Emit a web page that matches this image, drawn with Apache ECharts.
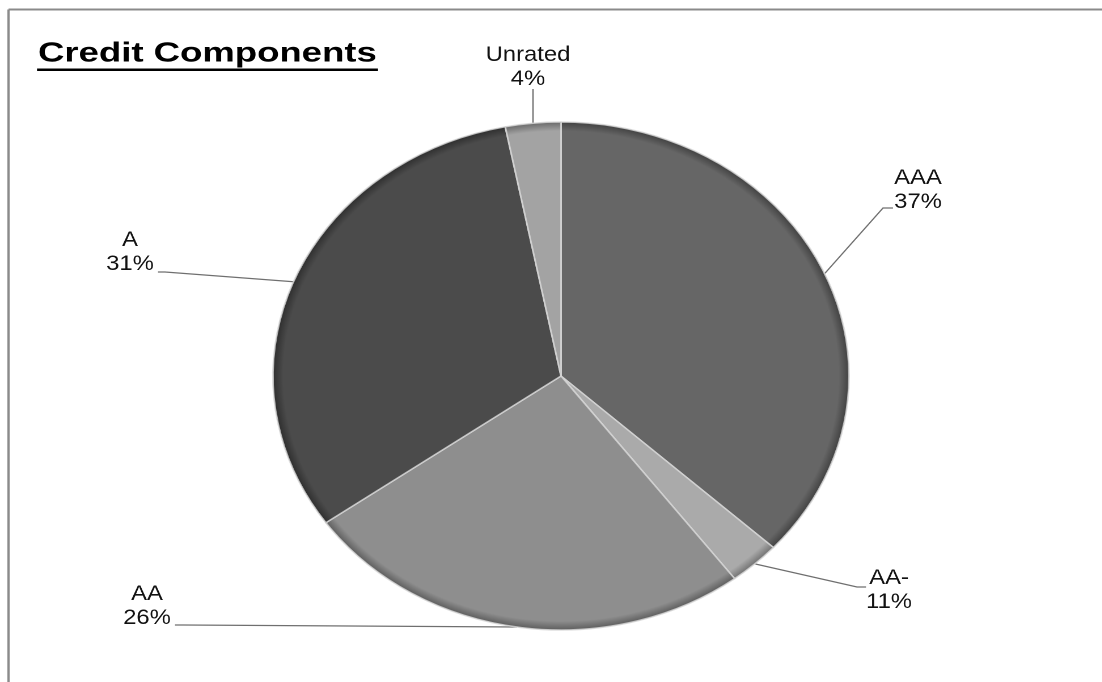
<!DOCTYPE html>
<html>
<head>
<meta charset="utf-8">
<script src="https://cdn.jsdelivr.net/npm/echarts@6/dist/echarts.min.js"></script>
<style>
html, body { margin: 0; padding: 0; background: #ffffff; overflow: hidden; width: 1102px; height: 682px; }
#wrap { position: absolute; left: 0; top: 0; width: 1102px; height: 682px; overflow: hidden; }
#chart { position: absolute; left: 0; top: 0; height: 682px; transform-origin: 0 0; }
</style>
</head>
<body>
<div id="wrap"><div id="chart"></div></div>
<script>
// ---- data ----
const categories = ['AAA', 'AA-', 'AA', 'A', 'Unrated'];
const sliceValues = [36.8, 2.9, 25.5, 31.7, 3.1];          // visual slice sizes
const labelPercents = ['37%', '11%', '26%', '31%', '4%'];  // printed label text
const titleText = 'Credit Components';

// ---- layout / style (not data) ----
const S = 1.134;                 // horizontal stretch of the whole picture
const W = 1102, H = 682;
const preW = W / S;
const px = x => x / S;           // screen x -> unstretched x
const CX = 561, CY = 376, R = 254;

const sliceColors = ['#666666', '#aaaaaa', '#8e8e8e', '#4b4b4b', '#a3a3a3'];
const rimColors   = ['#424242', '#727272', '#5e5e5e', '#2f2f2f', '#6a6a6a'];
const labelPos = [[918, 190], [889, 590], [147, 606], [130, 252], [528, 67]];
const leaderPts = [
  [[883, 208], [893, 208]],
  [[857, 587], [866, 587]],
  [[183, 625], [175, 625]],
  [[165, 272], [158, 272]],
  [[530, 100], [530, 89]]
];

const dom = document.getElementById('chart');
dom.style.width = preW + 'px';
dom.style.transform = 'scaleX(' + S + ')';

const chart = echarts.init(dom, null, { renderer: 'canvas', devicePixelRatio: 2 });

const pieData = categories.map((name, i) => ({
  name: name,
  value: sliceValues[i],
  itemStyle: {
    color: {
      type: 'radial', x: px(CX), y: CY, r: R, global: true,
      colorStops: [
        { offset: 0, color: sliceColors[i] },
        { offset: 0.965, color: sliceColors[i] },
        { offset: 1, color: rimColors[i] }
      ]
    }
  }
}));

const option = {
  backgroundColor: 'transparent',
  animation: false,
  graphic: [
    {
      type: 'line', silent: true,
      shape: { x1: px(8.5), y1: 9.5, x2: px(8.5), y2: H + 5 },
      style: { stroke: '#8a8a8a', lineWidth: 2 }
    },
    {
      type: 'line', silent: true,
      shape: { x1: px(8.5), y1: 9.5, x2: preW + 5, y2: 9.5 },
      style: { stroke: '#8a8a8a', lineWidth: 2 }
    },
    {
      type: 'text', silent: true,
      x: px(38), y: 54, scaleX: 1.15,
      style: { text: titleText, font: 'bold 28px "Liberation Sans", Arial, sans-serif', fill: '#000', verticalAlign: 'middle', align: 'left' }
    },
    {
      type: 'rect', silent: true,
      shape: { x: px(37), y: 68.5, width: px(341), height: 2.5 },
      style: { fill: '#000' }
    }
  ],
  series: [{
    type: 'pie',
    center: [px(CX), CY],
    radius: R,
    startAngle: 90,
    clockwise: true,
    avoidLabelOverlap: false,
    silent: true,
    data: pieData,
    itemStyle: { borderColor: 'rgba(215,215,215,0.8)', borderWidth: 1.5 },
    label: {
      show: true,
      position: 'outside',
      formatter: p => p.name + '\n' + labelPercents[p.dataIndex],
      fontFamily: '"Liberation Sans", Arial, sans-serif',
      fontSize: 21,
      lineHeight: 24,
      color: '#111',
      align: 'center'
    },
    labelLine: { show: true, length: 20, length2: 10, smooth: false, lineStyle: { color: '#6f6f6f', width: 1.2 } },
    labelLayout: function (p) {
      const i = p.dataIndex;
      const res = { x: px(labelPos[i][0]), y: labelPos[i][1], align: 'center', verticalAlign: 'middle' };
      const pts = p.labelLinePoints;
      if (pts && pts.length) {
        const s = pts[0];
        const L = leaderPts[i];
        let e1, e2;
        if (i === 4) {
          e1 = [s[0], L[0][1]];
          e2 = [s[0], L[1][1]];
        } else {
          e1 = [px(L[0][0]), L[0][1]];
          e2 = [px(L[1][0]), L[1][1]];
        }
        res.labelLinePoints = [s, e1, e2];
      }
      return res;
    },
    emphasis: { disabled: true }
  }]
};
chart.setOption(option);
</script>
</body>
</html>
